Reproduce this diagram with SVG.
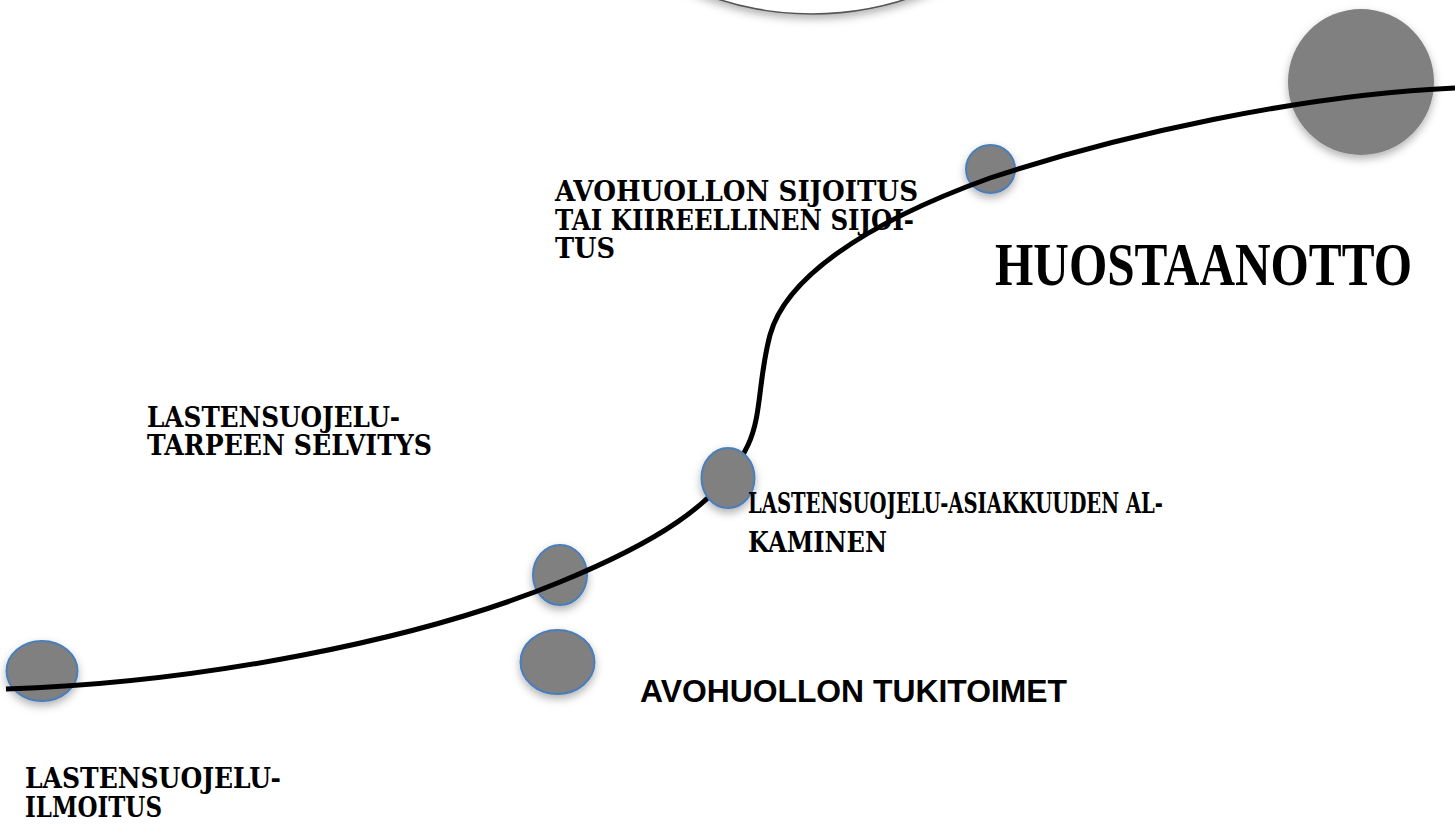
<svg xmlns="http://www.w3.org/2000/svg" width="1455" height="837" viewBox="0 0 1455 837">
<style>
.t{font-family:"DejaVu Serif","Liberation Serif",serif;font-weight:bold;fill:#000}
.s{font-size:27px}
.h{font-family:"Liberation Serif",serif;font-weight:bold;font-size:48px;fill:#000}
.a{font-family:"Liberation Sans",Arial,sans-serif;font-weight:bold;font-size:31px;fill:#000}
.dot{fill:#808080;stroke:#4a7ebb;stroke-width:2}
.curve{fill:none;stroke:#000;stroke-width:5;stroke-linecap:butt}
</style>
<defs>
<filter id="sh" x="-30%" y="-30%" width="160%" height="170%">
<feDropShadow dx="0" dy="4" stdDeviation="4" flood-color="#000" flood-opacity="0.3"/>
</filter>
</defs>
<rect width="1455" height="837" fill="#fff"/>
<g id="top-circle">
<circle cx="812" cy="-292" r="306" fill="#fff" stroke="#555" stroke-width="1.5" filter="url(#sh)"/>
</g>
<g id="node-ilmoitus">
<ellipse class="dot" cx="42" cy="671" rx="35.5" ry="30" filter="url(#sh)"/>
<text class="t s" x="25" y="788" textLength="256" lengthAdjust="spacingAndGlyphs">LASTENSUOJELU-</text>
<text class="t s" x="25" y="817" textLength="137" lengthAdjust="spacingAndGlyphs">ILMOITUS</text>
</g>
<g id="node-selvitys">
<ellipse class="dot" cx="560" cy="575" rx="27" ry="30" filter="url(#sh)"/>
<text class="t s" x="147" y="427" textLength="253" lengthAdjust="spacingAndGlyphs">LASTENSUOJELU-</text>
<text class="t s" x="147" y="455" textLength="285" lengthAdjust="spacingAndGlyphs">TARPEEN SELVITYS</text>
</g>
<g id="node-tukitoimet">
<ellipse class="dot" cx="557.5" cy="662" rx="37" ry="32" filter="url(#sh)"/>
<text class="a" x="640" y="702" textLength="427" lengthAdjust="spacingAndGlyphs">AVOHUOLLON TUKITOIMET</text>
</g>
<g id="node-sijoitus">
<ellipse class="dot" cx="990.5" cy="169" rx="24.5" ry="24" filter="url(#sh)"/>
<text class="t s" x="555" y="201" textLength="363" lengthAdjust="spacingAndGlyphs">AVOHUOLLON SIJOITUS</text>
<text class="t s" x="555" y="230" textLength="359" lengthAdjust="spacingAndGlyphs">TAI KIIREELLINEN SIJOI-</text>
<text class="t s" x="555" y="258" textLength="60" lengthAdjust="spacingAndGlyphs">TUS</text>
</g>
<g id="node-huostaanotto">
<circle cx="1361" cy="82" r="73" fill="#808080" filter="url(#sh)"/>
<text class="h" transform="translate(995,285) scale(1,1.27)" x="0" y="0" textLength="417" lengthAdjust="spacingAndGlyphs">HUOSTAANOTTO</text>
</g>
<g id="connectors">
<path class="curve" d="M 6 689 C 200 683, 420 640, 560 582 C 650 545, 720 505, 748 445 C 762 415, 758 380, 770 335 C 785 280, 860 225, 990 178 C 1120 135, 1300 95, 1455 88"/>
</g>
<g id="node-asiakkuus">
<ellipse class="dot" cx="728" cy="478" rx="26.5" ry="30" filter="url(#sh)"/>
<text class="t s" x="748" y="513" textLength="415" lengthAdjust="spacingAndGlyphs">LASTENSUOJELU-ASIAKKUUDEN AL-</text>
<text class="t s" x="748" y="552" textLength="139" lengthAdjust="spacingAndGlyphs">KAMINEN</text>
</g>
</svg>
